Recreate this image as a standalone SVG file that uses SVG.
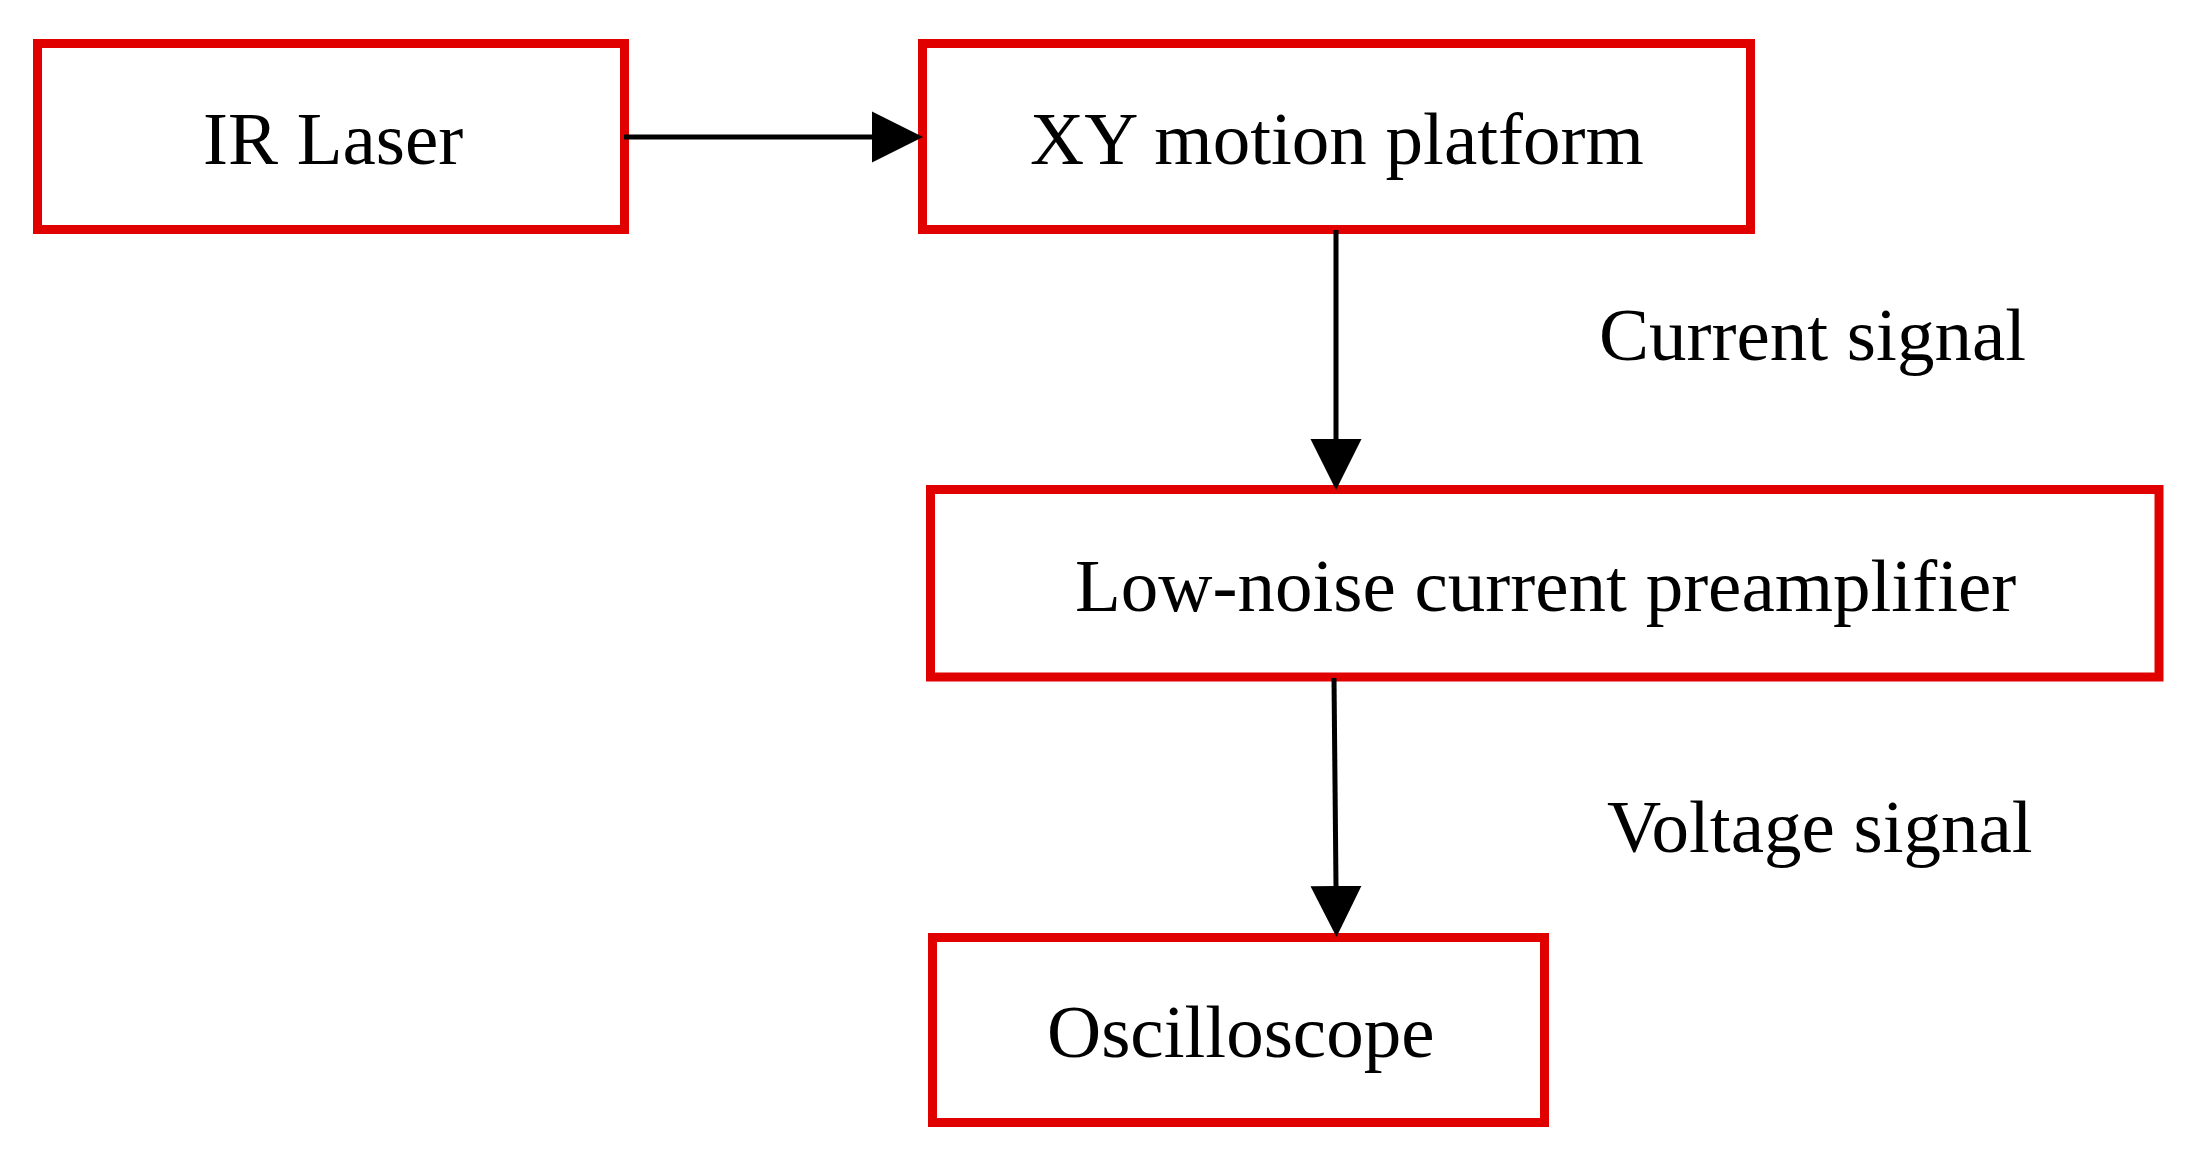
<svg xmlns="http://www.w3.org/2000/svg" width="2188" height="1162" viewBox="0 0 2188 1162">
  <defs>
    <style>
      .box { fill: #ffffff; stroke: #e00000; stroke-width: 9; }
      .lbl { font-family: "Liberation Serif", "Times New Roman", serif; font-size: 75px; fill: #000000; }
      .conn { stroke: #000000; stroke-width: 5; fill: none; marker-end: url(#arrow); }
    </style>
    <marker id="arrow" markerUnits="userSpaceOnUse" markerWidth="52" markerHeight="52" refX="0" refY="25.5" orient="auto" viewBox="0 0 52 51">
      <path d="M0,0 L51,25.5 L0,51 Z" fill="#000000"/>
    </marker>
  </defs>
  <rect width="2188" height="1162" fill="#ffffff"/>

  <g id="node-ir-laser">
    <rect class="box" x="37.5" y="43.5" width="587" height="186"/>
    <text class="lbl" x="203" y="164">IR Laser</text>
  </g>

  <g id="node-xy-platform">
    <rect class="box" x="922.5" y="43.5" width="828" height="186"/>
    <text class="lbl" x="1030" y="164">XY motion platform</text>
  </g>

  <g id="node-preamp">
    <rect class="box" x="930.5" y="489.5" width="1228.5" height="187.5"/>
    <text class="lbl" x="1075" y="611">Low-noise current preamplifier</text>
  </g>

  <g id="node-oscilloscope">
    <rect class="box" x="932.5" y="937.5" width="612" height="185"/>
    <text class="lbl" x="1047" y="1057">Oscilloscope</text>
  </g>

  <g id="connectors">
    <line class="conn" x1="624" y1="137" x2="872" y2="137"/>
    <line class="conn" x1="1336" y1="230" x2="1336" y2="439"/>
    <line class="conn" x1="1334" y1="678" x2="1336" y2="886"/>
    <text class="lbl" x="1599" y="360">Current signal</text>
    <text class="lbl" x="1607" y="852">Voltage signal</text>
  </g>
</svg>
